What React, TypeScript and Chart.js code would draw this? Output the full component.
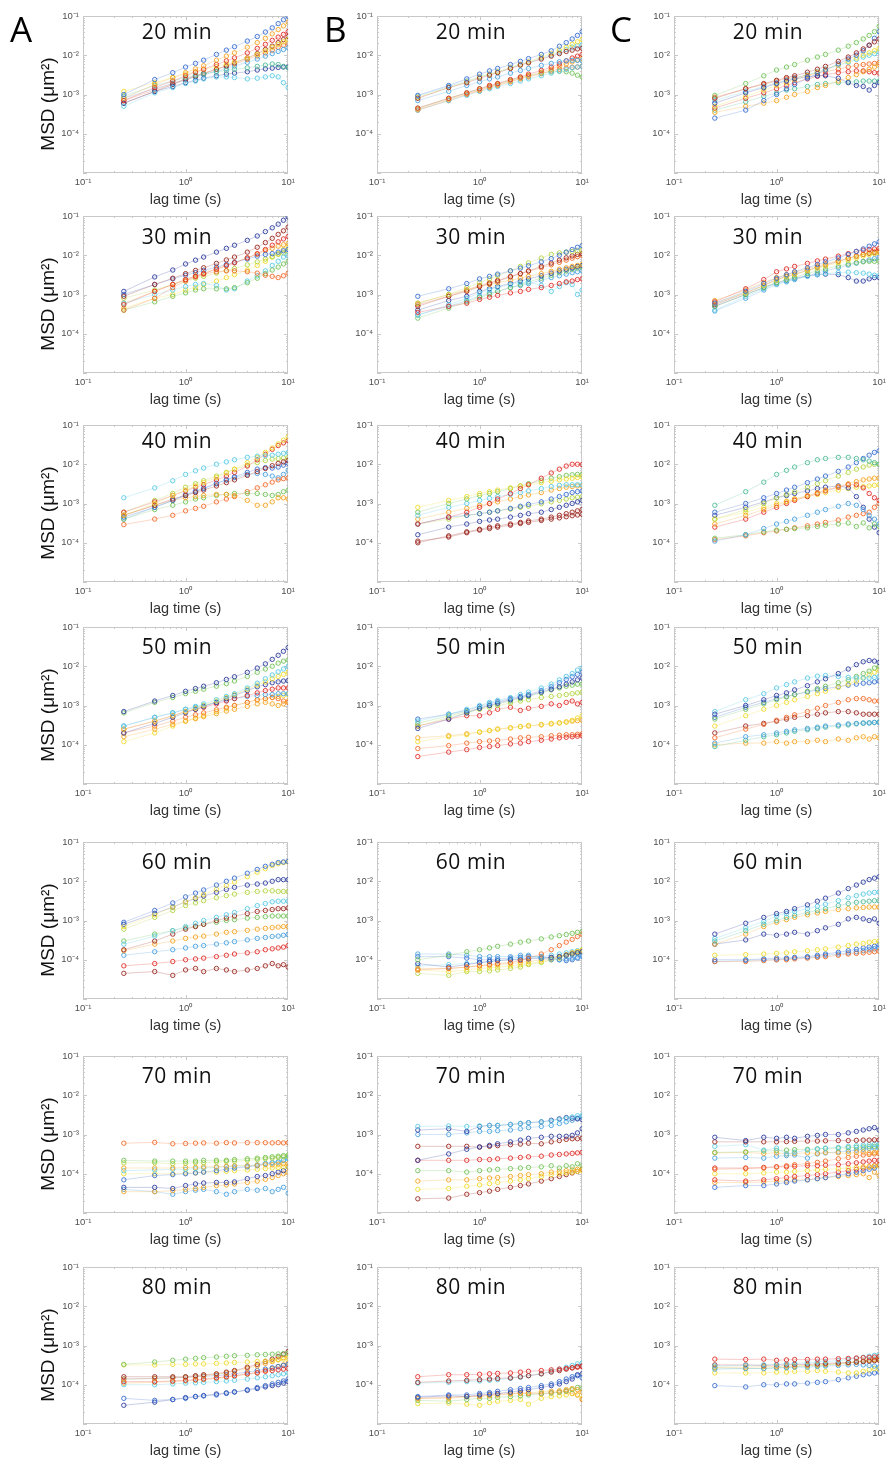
import React, { useEffect, useRef } from "react";
import { Chart, registerables } from "chart.js";

Chart.register(...registerables);

// ---------------- data ----------------
// lag times (s) shared by every curve
const LAG_S = [0.25, 0.5, 0.75, 1, 1.25, 1.5, 2, 2.5, 3, 4, 5, 6, 7, 8, 9, 10];
// all MSD values below are given in units of 1e-4 µm²
const UNIT = 1e-4;

const ROW_TITLES = ["20 min", "30 min", "40 min", "50 min", "60 min", "70 min", "80 min"];
const COLUMN_LETTERS = ["A", "B", "C"];
const X_TICKS = [0.1, 1, 10];
const X_TICK_LABELS = ["10⁻¹", "10⁰", "10¹"];
const Y_TICKS = [1e-4, 1e-3, 1e-2, 1e-1];
const Y_TICK_LABELS = ["10⁻⁴", "10⁻³", "10⁻²", "10⁻¹"];
const X_TITLE = "lag time (s)";
const Y_TITLE = "MSD (μm²)";

// ---- 20 min ----
const msdA20 = [
  [10, 24, 36, 50, 62, 75, 105, 135, 165, 230, 300, 390, 500, 640, 800, 980],
  [8, 18, 27, 36, 45, 54, 75, 95, 115, 160, 210, 270, 350, 450, 560, 700],
  [7, 15, 22, 30, 37, 44, 58, 72, 86, 115, 150, 190, 240, 290, 340, 400],
  [9, 17, 22, 27, 31, 34, 38, 41, 44, 48, 52, 56, 60, 58, 52, 48],
  [5, 11, 15, 19, 22, 25, 28, 28, 27, 25, 26, 28, 30, 28, 20, 15],
  [6, 12, 16, 20, 23, 26, 30, 33, 35, 38, 42, 45, 47, 49, 50, 50],
  [12, 20, 27, 33, 38, 43, 52, 60, 68, 85, 105, 130, 160, 190, 220, 250],
  [6, 12, 18, 24, 29, 34, 44, 54, 64, 85, 110, 140, 170, 210, 250, 300],
  [8, 14, 19, 24, 28, 32, 39, 46, 53, 66, 80, 95, 110, 125, 140, 155],
  [7, 13, 19, 25, 30, 35, 44, 52, 60, 78, 96, 115, 135, 160, 180, 200],
];
const colA20 = ["b", "o", "r", "t", "c", "db", "y", "dr", "lb", "ro"];

const msdB20 = [
  [9.5, 17, 25, 33, 40, 46, 58, 70, 82, 105, 130, 170, 210, 260, 320, 400],
  [8, 15, 20, 26, 31, 36, 46, 56, 64, 80, 95, 110, 125, 135, 145, 150],
  [8.5, 15, 21, 28, 33, 38, 48, 58, 68, 90, 110, 135, 160, 190, 220, 250],
  [7, 12, 17, 21, 25, 28, 35, 41, 46, 55, 62, 68, 72, 74, 74, 72],
  [4.5, 8, 11, 14, 17, 19, 24, 28, 33, 41, 50, 60, 72, 85, 95, 105],
  [4.2, 7.5, 10.5, 13, 16, 18, 22, 26, 30, 37, 44, 52, 60, 68, 76, 82],
  [4, 7, 9.5, 12, 14, 16, 19, 22, 25, 30, 35, 40, 44, 48, 50, 52],
  [4.5, 8, 11, 14, 16, 19, 23, 27, 30, 35, 38, 39, 38, 35, 31, 28],
  [4, 7, 10, 12.5, 15, 17, 21, 25, 28, 34, 40, 44, 47, 49, 50, 52],
  [9, 16, 22, 28, 33, 38, 48, 57, 66, 85, 100, 120, 140, 160, 175, 185],
];
const colB20 = ["b", "dr", "y", "lb", "r", "o", "c", "g", "ro", "c"];

const msdC20 = [
  [9.5, 19, 30, 42, 50, 58, 75, 90, 105, 135, 170, 210, 260, 320, 400, 550],
  [8, 14, 19, 23, 27, 30, 37, 44, 52, 70, 90, 115, 145, 180, 220, 260],
  [2.5, 4, 7, 10, 14, 18, 26, 34, 42, 60, 80, 100, 130, 180, 270, 400],
  [6, 11, 15, 19, 22, 25, 28, 30, 30, 26, 20, 17, 16, 13, 17, 20],
  [5, 9, 13, 17, 20, 24, 30, 37, 43, 56, 70, 85, 100, 115, 130, 150],
  [3.5, 5, 6, 7, 8.5, 10, 12, 15, 17, 22, 27, 32, 38, 44, 50, 58],
  [4.5, 8, 11, 14, 17, 20, 25, 29, 32, 36, 38, 40, 40, 38, 36, 35],
  [7, 12, 16, 20, 23, 26, 32, 38, 44, 55, 66, 78, 90, 100, 110, 120],
  [4, 6.5, 9, 11, 13, 14, 16, 18, 19, 20, 21, 21, 22, 22, 22, 22],
  [8.5, 14, 18, 22, 25, 27, 31, 35, 38, 44, 50, 55, 58, 60, 62, 65],
];
const colC20 = ["g", "dr", "b", "db", "y", "o", "r", "c", "t", "ro"];

// ---- 30 min ----
const msdA30 = [
  [12, 28, 42, 60, 75, 90, 120, 150, 180, 240, 310, 400, 500, 620, 780, 950],
  [9, 18, 26, 34, 41, 48, 62, 76, 90, 120, 160, 210, 270, 340, 420, 520],
  [5.5, 12, 18, 24, 29, 34, 44, 54, 64, 86, 110, 140, 180, 220, 260, 300],
  [4, 8, 15, 22, 28, 33, 38, 40, 40, 38, 35, 31, 29, 27, 30, 35],
  [4, 6.5, 9, 11, 13, 14, 14, 14, 15, 20, 26, 34, 42, 50, 60, 70],
  [6, 10, 13, 16, 18, 19, 17, 13, 14, 22, 30, 40, 55, 70, 90, 100],
  [10, 18, 25, 31, 36, 41, 50, 58, 66, 80, 95, 105, 110, 120, 130, 140],
  [6, 12, 18, 24, 30, 35, 45, 55, 65, 85, 105, 130, 150, 170, 185, 200],
  [8, 13, 18, 22, 26, 29, 35, 41, 46, 57, 68, 80, 92, 105, 115, 125],
  [4.5, 8, 10, 13, 15, 18, 22, 27, 32, 42, 55, 70, 90, 110, 140, 170],
];
const colA30 = ["db", "dr", "r", "ro", "g", "c", "b", "o", "yg", "y"];

const msdB30 = [
  [9, 14, 19, 25, 29, 33, 40, 47, 54, 68, 82, 100, 120, 140, 160, 175],
  [6, 10, 15, 20, 25, 30, 40, 52, 64, 85, 105, 115, 120, 125, 130, 135],
  [5, 9, 12, 16, 19, 22, 28, 34, 40, 52, 63, 75, 86, 96, 105, 110],
  [3.5, 5, 6, 7.5, 8.5, 9.5, 11, 12, 13.5, 15, 17, 19, 21, 22, 24, 25],
  [3, 5.5, 8, 11, 13, 15, 18, 20, 21, 17, 12, 16, 20, 18, 10, 13],
  [6, 10, 13, 16, 18, 20, 23, 26, 29, 34, 39, 44, 48, 52, 55, 58],
  [4, 7, 9, 12, 14, 16, 19, 22, 25, 30, 35, 40, 44, 48, 52, 55],
  [2.5, 4.5, 6.5, 8.5, 10, 12, 15, 18, 21, 26, 31, 36, 40, 44, 47, 50],
  [5.5, 9, 13, 17, 20, 23, 29, 34, 39, 48, 57, 66, 75, 84, 92, 100],
  [3, 5, 7, 9, 11, 12, 15, 17, 19, 23, 27, 30, 33, 36, 38, 40],
];
const colB30 = ["b", "yg", "dr", "r", "c", "o", "db", "g", "ro", "lb"];

const msdC30 = [
  [6, 12, 19, 26, 32, 38, 48, 58, 68, 85, 105, 125, 145, 170, 195, 220],
  [6.5, 14, 24, 38, 45, 52, 62, 72, 80, 95, 110, 125, 135, 140, 145, 150],
  [7, 13, 20, 27, 32, 37, 45, 53, 60, 72, 85, 95, 105, 115, 122, 130],
  [6, 11, 17, 23, 28, 32, 40, 47, 53, 64, 75, 85, 95, 103, 110, 115],
  [5, 10, 15, 20, 24, 28, 34, 40, 45, 53, 60, 65, 68, 70, 70, 70],
  [4, 9, 14, 19, 22, 25, 29, 32, 34, 36, 37, 36, 35, 33, 31, 30],
  [5, 10, 15, 20, 23, 26, 30, 32, 33, 32, 27, 22, 22, 25, 27, 27],
  [5.5, 11, 17, 24, 29, 33, 41, 49, 56, 70, 83, 95, 105, 112, 118, 122],
  [3.8, 8, 13, 18, 21, 24, 30, 35, 40, 48, 56, 63, 70, 76, 82, 88],
];
const colC30 = ["b", "r", "o", "y", "g", "c", "db", "dr", "lb"];

// ---- 40 min ----
const msdA40 = [
  [14, 25, 38, 55, 68, 80, 100, 115, 130, 150, 160, 165, 170, 180, 190, 200],
  [5, 10, 16, 22, 28, 34, 46, 60, 75, 110, 150, 200, 260, 330, 410, 500],
  [6, 11, 16, 21, 26, 30, 40, 50, 62, 90, 130, 180, 240, 300, 350, 400],
  [5, 9, 13, 16, 19, 22, 28, 34, 40, 52, 65, 78, 92, 105, 115, 125],
  [4.5, 8, 12, 16, 20, 24, 32, 40, 48, 62, 75, 82, 80, 85, 95, 105],
  [5, 9, 12, 14, 15, 16, 17, 17, 16, 12, 9, 9, 11, 14, 14, 13],
  [4, 7, 9, 11, 13, 14, 16, 17, 18, 18, 18, 17, 16, 17, 20, 22],
  [2.9, 4, 5, 6.5, 7.5, 8.5, 11, 13, 15, 20, 25, 30, 35, 40, 43, 45],
  [6, 12, 18, 26, 32, 38, 50, 62, 74, 95, 110, 125, 135, 140, 145, 150],
  [4, 8, 12, 17, 21, 25, 33, 40, 46, 55, 58, 55, 50, 45, 55, 70],
];
const colA40 = ["c", "y", "r", "dr", "b", "o", "g", "ro", "yg", "lb"];

const msdB40 = [
  [3, 4.5, 6, 8, 10, 13, 18, 24, 30, 44, 60, 75, 90, 100, 100, 98],
  [8, 12, 15, 18, 20, 22, 25, 28, 30, 34, 37, 40, 42, 44, 46, 48],
  [6, 10, 13, 16, 18, 20, 24, 28, 32, 38, 44, 48, 52, 54, 55, 55],
  [5, 8, 10, 12, 13.5, 15, 17, 19, 21, 24, 27, 29, 30, 30, 30, 30],
  [4, 6, 7.5, 9, 10, 11, 13, 15, 16.5, 19, 22, 24, 26, 27, 28, 28],
  [3, 4.5, 5, 5.5, 6, 6.5, 7.5, 8.5, 9.5, 11, 13, 15, 17, 19, 20, 21],
  [1.6, 2.5, 3, 3.5, 3.8, 4, 4.5, 5, 5.5, 6, 7, 8, 9, 10, 11, 12],
  [1, 1.5, 1.9, 2.2, 2.5, 2.7, 3, 3.3, 3.6, 4, 4.5, 5, 5.5, 6, 6.5, 7],
  [1.1, 1.4, 1.8, 2.1, 2.3, 2.5, 2.8, 3.1, 3.3, 3.7, 4, 4.3, 4.6, 4.9, 5.1, 5.3],
  [3, 4, 5, 5.5, 6, 6.5, 7.2, 8, 8.6, 9.8, 11, 12, 13, 14, 14.5, 15],
];
const colB40 = ["r", "y", "g", "c", "o", "b", "db", "dr", "dr", "yg"];

const msdC40 = [
  [9, 20, 35, 55, 70, 85, 110, 130, 140, 150, 150, 140, 130, 120, 110, 100],
  [6, 10, 14, 18, 22, 26, 34, 42, 50, 66, 85, 110, 140, 170, 200, 220],
  [4, 7, 10, 14, 17, 20, 26, 32, 38, 50, 62, 75, 85, 95, 100, 100],
  [3, 5, 7, 9, 11, 13, 16, 19, 22, 27, 32, 36, 40, 42, 44, 45],
  [2.5, 4, 6, 8, 10, 12, 15, 18, 21, 26, 30, 30, 25, 18, 14, 12],
  [1.1, 1.6, 2.3, 3, 3.5, 4, 5, 6, 7, 8.5, 10, 9, 7, 5, 4, 3],
  [1.3, 1.6, 1.9, 2.1, 2.2, 2.3, 2.4, 2.6, 2.8, 3, 3.2, 2.6, 3.2, 2.4, 3, 2.6],
  [1.2, 1.5, 1.8, 2, 2.2, 2.4, 2.7, 3, 3.3, 3.8, 4.5, 5, 5.5, 6, 8, 10],
  [5, 8, 11, 14, 16, 18, 21, 24, 26, 28, 25, 15, 8, 4, 2.5, 1.8],
  [4, 6, 8, 10, 11.5, 13, 15, 17, 19, 22, 24, 26, 27, 28, 29, 30],
];
const colC40 = ["t", "b", "yg", "o", "r", "lb", "g", "ro", "db", "y"];

// ---- 50 min ----
const msdA50 = [
  [7, 13, 18, 23, 27, 31, 38, 46, 54, 70, 90, 115, 150, 190, 240, 300],
  [6.5, 12, 16, 20, 23, 26, 31, 36, 42, 55, 70, 85, 100, 120, 135, 145],
  [3, 5, 6.5, 8, 9.5, 11, 14, 17, 20, 28, 37, 48, 60, 72, 85, 100],
  [2.5, 4, 5.5, 7, 8.5, 10, 13, 16, 19, 26, 33, 40, 48, 55, 62, 70],
  [2, 3.5, 5, 6.5, 8, 9.5, 12, 15, 18, 24, 30, 34, 38, 40, 42, 43],
  [2.5, 4, 5.5, 7, 8, 9, 11, 13, 15, 18, 21, 24, 26, 28, 28, 28],
  [3, 5, 6.5, 8, 9, 10, 12, 13.5, 15, 17, 18, 19, 19, 20, 20, 20],
  [1.6, 2.5, 3.3, 4, 4.6, 5.2, 6.2, 7.2, 8, 9.5, 11, 12, 11, 10, 11, 13],
  [2, 3, 4, 5, 5.8, 6.5, 7.8, 9, 10, 12, 14, 15, 16, 15, 13, 12],
  [1.2, 2, 3, 4, 4.8, 5.5, 7, 8.5, 10, 12, 14, 15, 16, 17, 18, 19],
];
const colA50 = ["db", "g", "c", "y", "db", "r", "lb", "o", "ro", "y"];

const msdB50 = [
  [4, 6, 8, 10, 12, 13.5, 16, 19, 22, 28, 35, 45, 55, 65, 80, 90],
  [4.5, 6, 7.5, 9.5, 11, 12.5, 15, 17, 19, 24, 30, 38, 46, 54, 62, 70],
  [2.6, 4.5, 6.5, 8.5, 10, 11.5, 14, 16, 18, 22, 26, 30, 35, 40, 45, 50],
  [3.5, 5.5, 7, 8.5, 10, 11, 13, 15, 17, 21, 25, 28, 31, 33, 35, 35],
  [3, 5, 6.5, 8, 9, 10, 11.5, 13, 14, 16, 17, 18, 19, 20, 21, 22],
  [3, 4.5, 5.5, 5.5, 6.5, 8, 9, 7.5, 8.5, 9.5, 11, 10, 12, 13, 11, 12],
  [1.2, 1.6, 1.8, 2.1, 2.3, 2.5, 2.7, 2.9, 3.1, 3.3, 3.5, 3.6, 3.8, 4.2, 4.8, 5.5],
  [1.5, 1.7, 1.9, 2.1, 2.3, 2.5, 2.7, 2.9, 3, 3.2, 3.4, 3.6, 3.8, 4, 4.1, 4.2],
  [0.5, 0.65, 0.75, 0.85, 0.9, 0.95, 1.05, 1.1, 1.2, 1.3, 1.4, 1.5, 1.55, 1.6, 1.65, 1.7],
  [0.8, 0.95, 1.1, 1.2, 1.25, 1.3, 1.4, 1.5, 1.55, 1.6, 1.7, 1.75, 1.8, 1.8, 1.85, 1.9],
];
const colB50 = ["c", "b", "db", "g", "yg", "r", "y", "o", "r", "ro"];

const msdC50 = [
  [6, 10, 14, 18, 21, 25, 32, 40, 48, 65, 85, 110, 130, 140, 135, 125],
  [7, 14, 20, 28, 34, 40, 50, 56, 58, 55, 52, 50, 50, 50, 52, 55],
  [4.5, 8, 11, 14, 16.5, 19, 23, 27, 31, 38, 45, 55, 65, 75, 90, 100],
  [3, 5.5, 8, 10, 12, 14, 17, 20, 23, 29, 35, 42, 50, 60, 70, 80],
  [5, 9, 12, 15, 17, 19, 22, 25, 27, 30, 33, 35, 37, 38, 40, 42],
  [1.5, 2.5, 3.3, 4.2, 5, 5.8, 7, 8.5, 10, 12, 14, 15, 15, 14, 13, 13],
  [2, 3, 3.5, 4, 4.5, 5, 5.5, 6, 6.5, 7, 7, 6.5, 6, 6, 6, 6],
  [1.1, 1.6, 1.8, 2, 2.2, 2.4, 2.6, 2.8, 3, 3.2, 3.4, 3.5, 3.6, 3.6, 3.7, 3.7],
  [0.9, 1.3, 1.6, 1.8, 2, 2.2, 2.4, 2.6, 2.8, 3, 3.2, 3.4, 3.5, 3.6, 3.7, 3.8],
  [1, 1.1, 1.1, 1.2, 1.1, 1.2, 1.2, 1.3, 1.2, 1.4, 1.3, 1.5, 1.6, 1.4, 1.6, 1.5],
];
const colC50 = ["db", "c", "g", "y", "b", "ro", "dr", "lb", "t", "o"];

// ---- 60 min ----
const msdA60 = [
  [9, 18, 28, 40, 50, 60, 80, 100, 120, 160, 200, 240, 270, 300, 310, 320],
  [7, 14, 22, 30, 38, 46, 62, 78, 95, 130, 170, 210, 250, 280, 300, 310],
  [8, 15, 22, 30, 36, 42, 52, 62, 70, 80, 85, 90, 100, 110, 110, 110],
  [6, 12, 18, 24, 28, 32, 38, 43, 47, 52, 55, 57, 57, 55, 55, 55],
  [2.5, 4, 5.5, 7, 8.5, 10, 12, 14, 16, 20, 24, 27, 30, 31, 31, 31],
  [1.8, 3, 4.5, 6, 7, 8, 10, 11.5, 13, 15, 17, 18, 19, 20, 20, 21],
  [3, 4.5, 5.5, 6.5, 7.2, 8, 9, 10, 10.5, 11.5, 12, 12.5, 13, 13, 13, 13],
  [1.7, 2.5, 3, 3.5, 3.8, 4, 4.5, 5, 5.2, 5.6, 6, 6.3, 6.6, 6.8, 7, 7],
  [1.3, 1.6, 1.8, 2, 2.2, 2.3, 2.5, 2.7, 2.9, 3.2, 3.5, 3.7, 3.9, 4, 4.2, 4.4],
  [0.7, 0.8, 0.9, 1, 1.05, 1.1, 1.2, 1.3, 1.4, 1.5, 1.6, 1.8, 1.9, 2, 2.1, 2.3],
  [0.45, 0.5, 0.4, 0.55, 0.6, 0.5, 0.6, 0.55, 0.5, 0.55, 0.6, 0.7, 0.8, 0.7, 0.75, 0.65],
];
const colA60 = ["b", "y", "db", "yg", "c", "dr", "g", "o", "lb", "r", "dr"];

const msdB60 = [
  [1, 1.3, 1.6, 1.8, 2, 2.2, 2.5, 2.8, 3, 3.4, 3.8, 4.1, 4.4, 4.7, 5, 5.2],
  [0.55, 0.6, 0.65, 0.7, 0.75, 0.8, 0.85, 0.95, 1.1, 1.4, 1.8, 2.3, 2.8, 3.3, 3.9, 4.5],
  [1.4, 1.4, 1.3, 1.2, 1.2, 1.2, 1.2, 1.3, 1.3, 1.1, 1, 1, 1.05, 1.1, 1.15, 1.2],
  [0.8, 0.65, 0.75, 0.85, 0.9, 0.95, 1, 1, 1.05, 1.1, 1.15, 1.2, 1.3, 1.4, 1.5, 1.6],
  [0.55, 0.5, 0.55, 0.6, 0.62, 0.65, 0.7, 0.75, 0.8, 0.9, 1, 1.1, 1.3, 1.45, 1.6, 1.8],
  [0.6, 0.6, 0.65, 0.7, 0.72, 0.75, 0.8, 0.85, 0.9, 1, 1.1, 1.2, 1.35, 1.5, 1.6, 1.7],
  [0.45, 0.4, 0.5, 0.5, 0.52, 0.55, 0.6, 0.65, 0.75, 0.85, 1, 1.15, 1.3, 1.4, 1.5, 1.6],
  [0.7, 0.75, 0.8, 0.85, 0.9, 0.95, 1, 1.05, 1.1, 1.2, 1.3, 1.4, 1.5, 1.6, 1.7, 1.8],
  [1.2, 1.2, 1.1, 1, 1, 1.05, 1.1, 1.15, 1.2, 1.2, 1.1, 1, 0.95, 1, 1.1, 1.3],
];
const colB60 = ["g", "ro", "lb", "db", "y", "o", "yg", "c", "b"];

const msdC60 = [
  [4.5, 8.5, 12, 15, 17, 20, 25, 31, 37, 50, 65, 80, 95, 110, 120, 130],
  [3.5, 6.5, 9.5, 13, 15, 17, 20, 23, 26, 32, 38, 43, 47, 50, 52, 53],
  [3, 5.5, 8, 10, 12, 13.5, 16, 18, 20, 24, 27, 29, 30, 31, 32, 32],
  [2.5, 4.5, 7, 9, 10.5, 12, 14, 15.5, 17, 19, 20, 21, 21.5, 22, 22, 22],
  [2.5, 3.2, 4.5, 4.2, 4.5, 5, 4.5, 5.5, 6.5, 8, 11, 12, 11, 10, 11, 8.5],
  [1.3, 1.35, 1.4, 1.45, 1.5, 1.6, 1.7, 1.8, 1.9, 2.1, 2.3, 2.5, 2.6, 2.8, 2.9, 3],
  [1, 1, 1.05, 1.1, 1.1, 1.15, 1.2, 1.3, 1.4, 1.55, 1.7, 1.85, 2, 2.1, 2.2, 2.4],
  [0.9, 0.9, 0.95, 1, 1, 1.05, 1.1, 1.15, 1.2, 1.3, 1.4, 1.45, 1.5, 1.55, 1.6, 1.65],
  [0.9, 0.95, 1, 1, 1.05, 1.1, 1.15, 1.2, 1.3, 1.4, 1.5, 1.6, 1.7, 1.8, 1.9, 2],
];
const colC60 = ["db", "c", "t", "o", "db", "y", "b", "ro", "lb"];

// ---- 70 min ----
const msdA70 = [
  [6, 6.3, 5.8, 5.9, 6, 6.1, 6, 6.2, 6.1, 6.2, 6.2, 6.2, 6.1, 6.2, 6.1, 6.2],
  [2.2, 2.1, 2.1, 2.1, 2.1, 2.2, 2.2, 2.2, 2.3, 2.4, 2.5, 2.6, 2.7, 2.8, 2.9, 3],
  [1.9, 1.9, 1.8, 1.85, 1.9, 1.9, 2, 2.05, 2.1, 2.2, 2.3, 2.4, 2.5, 2.6, 2.7, 2.8],
  [1.4, 1.4, 1.4, 1.45, 1.45, 1.5, 1.5, 1.55, 1.6, 1.6, 1.65, 1.7, 1.7, 1.75, 1.8, 1.8],
  [1.2, 1.25, 1.3, 1.3, 1.35, 1.4, 1.45, 1.5, 1.55, 1.6, 1.7, 1.8, 1.9, 2, 2.2, 2.4],
  [0.7, 0.9, 0.95, 1, 1.05, 1.1, 1.2, 1.3, 1.4, 1.5, 1.6, 1.8, 1.9, 2, 2.2, 2.5],
  [1, 1, 1, 1.05, 1.05, 1.1, 1.1, 1.15, 1.2, 1.25, 1.3, 1.35, 1.4, 1.45, 1.5, 1.5],
  [0.45, 0.45, 0.42, 0.5, 0.55, 0.58, 0.6, 0.6, 0.62, 0.75, 0.85, 0.9, 1, 1.1, 1.2, 1.5],
  [0.35, 0.35, 0.37, 0.4, 0.42, 0.45, 0.5, 0.52, 0.55, 0.6, 0.65, 0.72, 0.8, 0.9, 1, 1.1],
  [0.4, 0.35, 0.3, 0.35, 0.38, 0.4, 0.35, 0.3, 0.35, 0.4, 0.38, 0.42, 0.35, 0.4, 0.45, 0.32],
];
const colA70 = ["ro", "g", "yg", "o", "c", "b", "y", "db", "o", "lb"];

const msdB70 = [
  [16, 16.5, 16, 16.5, 17, 17, 18, 19, 20, 21, 22, 24, 26, 28, 30, 31],
  [13, 14, 12, 16, 17, 17, 18, 19, 20, 21, 23, 25, 27, 26, 25, 24],
  [10, 10, 11, 12, 12, 12.5, 13, 14, 15, 16, 17, 19, 21, 23, 26, 28],
  [2.2, 3.2, 4.2, 4.8, 5.3, 5.8, 6.5, 7.2, 8, 8.5, 9, 9, 9, 9.5, 11, 14],
  [5, 5, 5, 4.8, 5, 5.2, 5.5, 5.7, 6, 5.8, 6.5, 7, 7.5, 7.8, 7.8, 8],
  [2.2, 2.2, 2.2, 2.3, 2.3, 2.4, 2.5, 2.6, 2.7, 2.8, 3, 3.1, 3.2, 3.3, 3.4, 3.5],
  [1.2, 1.2, 1.1, 1.2, 1.25, 1.3, 1.35, 1.4, 1.45, 1.5, 1.6, 1.4, 1.6, 1.5, 1.8, 1.6],
  [0.65, 0.7, 0.7, 0.75, 0.78, 0.8, 0.85, 0.9, 0.95, 1, 1.1, 1.15, 1.2, 1.25, 1.3, 1.3],
  [0.4, 0.42, 0.48, 0.52, 0.56, 0.6, 0.65, 0.7, 0.75, 0.85, 0.95, 1, 1.05, 1.1, 1.15, 1.2],
  [0.23, 0.24, 0.3, 0.33, 0.36, 0.4, 0.45, 0.5, 0.55, 0.65, 0.75, 0.85, 0.95, 1.05, 1.15, 1.3],
];
const colB70 = ["c", "db", "lb", "db", "dr", "r", "g", "o", "y", "dr"];

const msdC70 = [
  [8.5, 7, 8.5, 8, 8.5, 8, 9, 9.5, 10, 10, 11, 12, 13, 14, 15, 13],
  [6.5, 6.5, 6.5, 6.5, 6.6, 6.7, 6.8, 6.8, 6.9, 7, 7, 7.1, 7.2, 7.2, 7.3, 7.3],
  [5, 5.5, 4, 4.5, 3.2, 3.5, 4, 4.3, 4.5, 4.7, 5, 5.2, 5.4, 5.5, 5.6, 5.7],
  [3.5, 3.6, 3.8, 3.9, 4, 4.1, 4.2, 4.3, 4.4, 4.5, 4.6, 4.7, 4.8, 4.9, 5, 5],
  [3.4, 3.5, 3.3, 3.4, 3.2, 3.3, 3.4, 3.3, 3.5, 3.4, 3.3, 3.5, 3.6, 3.4, 3.5, 3.6],
  [2.5, 2.6, 2.5, 2.8, 2.9, 3, 2.5, 3.2, 3.4, 3.6, 3.8, 4, 4.2, 4.4, 4.5, 4.6],
  [1.3, 1.35, 1.4, 1.5, 1.6, 1.7, 1.8, 1.95, 2.1, 2.4, 2.6, 2.8, 3, 3.1, 3.2, 3.3],
  [1.4, 1.4, 1.45, 1.5, 1.5, 1.55, 1.6, 1.6, 1.65, 1.7, 1.8, 1.9, 2, 2.1, 2.2, 2.2],
  [1, 1, 1.05, 1.1, 1.1, 1.15, 1.2, 1.25, 1.3, 1.35, 1.4, 1.45, 1.5, 1.5, 1.55, 1.6],
  [0.7, 0.65, 0.7, 0.75, 0.8, 0.85, 0.9, 0.95, 1, 1.1, 1.2, 1.3, 1.4, 1.5, 1.6, 1.7],
  [0.45, 0.5, 0.5, 0.55, 0.6, 0.65, 0.7, 0.75, 0.8, 0.9, 1, 1.1, 1.2, 1.3, 1.4, 1.6],
  [0.6, 0.6, 0.62, 0.65, 0.65, 0.7, 0.7, 0.75, 0.8, 0.85, 0.9, 0.95, 1, 0.8, 1.1, 0.9],
];
const colC70 = ["db", "dr", "c", "g", "o", "lb", "ro", "r", "y", "r", "b", "o"];

// ---- 80 min ----
const msdA80 = [
  [3.3, 3.8, 4.2, 4.5, 4.7, 4.9, 5.1, 5.3, 5.5, 5.6, 5.8, 5.9, 6, 6.1, 6.2, 6.3],
  [3.2, 3.2, 3.3, 3.3, 3.4, 3.4, 3.5, 3.6, 3.7, 3.8, 3.9, 4, 4.1, 4.3, 4.5, 4.7],
  [1.6, 1.6, 1.6, 1.6, 1.7, 1.8, 1.9, 2.1, 2.3, 2.8, 3.3, 3.9, 4.5, 5.2, 6, 7],
  [1.4, 1.45, 1.5, 1.55, 1.6, 1.7, 1.85, 2, 2.2, 2.6, 3, 3.5, 3.9, 4.4, 4.9, 5.3],
  [1.2, 1.2, 1.25, 1.3, 1.35, 1.4, 1.5, 1.6, 1.7, 1.9, 2, 2.2, 2.3, 2.4, 2.5, 2.6],
  [1.4, 1.45, 1.5, 1.55, 1.6, 1.65, 1.7, 1.8, 1.9, 2.1, 2.3, 2.5, 2.7, 2.9, 3.1, 3.3],
  [1, 1, 1.05, 1.1, 1.12, 1.15, 1.2, 1.25, 1.3, 1.4, 1.5, 1.6, 1.7, 1.8, 1.9, 2],
  [0.45, 0.4, 0.42, 0.45, 0.5, 0.52, 0.55, 0.6, 0.65, 0.75, 0.85, 0.95, 1.05, 1.15, 1.25, 1.4],
  [0.3, 0.36, 0.42, 0.47, 0.5, 0.53, 0.58, 0.62, 0.66, 0.72, 0.8, 0.88, 0.95, 1, 1.1, 1.2],
  [1.1, 1.15, 1.2, 1.25, 1.3, 1.35, 1.45, 1.55, 1.65, 1.85, 2.05, 2.3, 2.6, 2.9, 3.2, 3.6],
];
const colA80 = ["g", "y", "dr", "o", "r", "b", "c", "b", "db", "o"];

const msdB80 = [
  [1.6, 1.8, 1.8, 1.85, 1.9, 1.95, 2, 2.1, 2.2, 2.3, 2.4, 2.5, 2.6, 2.7, 2.8, 2.9],
  [1.15, 1.25, 1.3, 1.35, 1.4, 1.45, 1.5, 1.6, 1.7, 1.9, 2.1, 2.3, 2.5, 2.7, 2.9, 3],
  [1.1, 1.15, 1.2, 1.25, 1.3, 1.35, 1.45, 1.55, 1.7, 1.9, 2.2, 2.5, 2.8, 3.1, 3.4, 3.6],
  [0.5, 0.55, 0.55, 0.6, 0.63, 0.68, 0.75, 0.8, 0.85, 0.95, 1.05, 1.2, 1.4, 1.6, 1.7, 1.5],
  [0.48, 0.52, 0.5, 0.55, 0.58, 0.6, 0.65, 0.7, 0.75, 0.85, 0.95, 1.05, 1.2, 1.4, 1.8, 1.9],
  [0.45, 0.45, 0.5, 0.5, 0.52, 0.55, 0.58, 0.6, 0.62, 0.66, 0.68, 0.7, 0.75, 0.8, 0.75, 0.65],
  [0.4, 0.38, 0.42, 0.45, 0.45, 0.48, 0.5, 0.52, 0.55, 0.6, 0.62, 0.65, 0.7, 0.75, 0.85, 0.8],
  [0.33, 0.34, 0.32, 0.3, 0.35, 0.38, 0.4, 0.42, 0.32, 0.45, 0.5, 0.52, 0.55, 0.6, 0.55, 0.45],
  [0.45, 0.48, 0.5, 0.52, 0.55, 0.58, 0.6, 0.62, 0.6, 0.58, 0.62, 0.65, 0.68, 0.6, 0.55, 0.42],
];
const colB80 = ["r", "dr", "c", "b", "db", "o", "g", "y", "ro"];

const msdC80 = [
  [4.5, 4.4, 4.5, 4.2, 4.3, 4.4, 4.4, 4.5, 4.5, 4.6, 4.7, 4.8, 4.9, 5, 5.1, 5.2],
  [3, 3.1, 3.2, 3.3, 3.4, 3.5, 3.6, 3.8, 3.9, 4.1, 4.4, 4.7, 5, 5.3, 5.6, 5.8],
  [3.2, 3.2, 3.1, 3.2, 3.2, 3.3, 3.3, 3.4, 3.5, 3.6, 3.7, 3.8, 3.9, 4, 4.1, 4.2],
  [2.8, 2.8, 2.9, 2.9, 3, 3, 3.1, 3.2, 3.3, 3.4, 3.6, 3.8, 4, 4.2, 4.4, 4.6],
  [2.5, 2.6, 2.6, 2.7, 2.7, 2.8, 2.8, 2.9, 3, 3.1, 3.2, 3.3, 3.2, 3.1, 3, 2.8],
  [2, 2, 2, 2.1, 2.1, 2.2, 2.2, 2.3, 2.2, 2.1, 2, 2, 2.2, 2.4, 2.6, 2.5],
  [0.95, 0.88, 1, 1, 1.05, 1.05, 1.1, 1.15, 1.2, 1.35, 1.5, 1.65, 1.8, 1.9, 2, 2.1],
  [2.7, 2.6, 2.6, 2.7, 2.8, 2.9, 3, 3.1, 3.2, 3.4, 3.6, 3.8, 4, 4.2, 4.4, 4.5],
];
const colC80 = ["r", "c", "dr", "o", "lb", "y", "b", "g"];

// panel table (rows = time points, columns = A/B/C)
const GRID: [number[][], string[]][][] = [
  [[msdA20, colA20], [msdB20, colB20], [msdC20, colC20]],
  [[msdA30, colA30], [msdB30, colB30], [msdC30, colC30]],
  [[msdA40, colA40], [msdB40, colB40], [msdC40, colC40]],
  [[msdA50, colA50], [msdB50, colB50], [msdC50, colC50]],
  [[msdA60, colA60], [msdB60, colB60], [msdC60, colC60]],
  [[msdA70, colA70], [msdB70, colB70], [msdC70, colC70]],
  [[msdA80, colA80], [msdB80, colB80], [msdC80, colC80]],
];

// ---------------- styles / layout ----------------
const JET: Record<string, string> = {
  db: "#2f3e9e",
  b: "#3a6fd0",
  lb: "#4aa2df",
  c: "#5ccbe6",
  t: "#52bd98",
  g: "#76c35c",
  yg: "#b4d444",
  y: "#f0dc30",
  o: "#f5a524",
  ro: "#f26b2a",
  r: "#e0302a",
  dr: "#9c2a22",
};

const PLOT_LEFT = [83, 377, 674];
const PLOT_TOP = [16, 216, 425, 627, 842, 1056, 1267];
const PLOT_W = 208;
const PLOT_H = 157;
const AX_W = 83;
const TOP_PAD = 10;
const RIGHT_PAD = 8;
const AX_H = 40;
const CANVAS_W = AX_W + PLOT_W + RIGHT_PAD;
const CANVAS_H = TOP_PAD + PLOT_H + AX_H;
const TITLE_CY = [31, 236, 440, 646, 861, 1075, 1286];
const LETTER_X = [10, 324, 610];

const TICK_FONT = { family: "'Liberation Sans', Arial, sans-serif", size: 9.5 };

function rgba(hex: string, a: number) {
  const n = parseInt(hex.slice(1), 16);
  return `rgba(${(n >> 16) & 255},${(n >> 8) & 255},${n & 255},${a})`;
}

const framePlugin = {
  id: "msdFrame",
  beforeDatasetsDraw(chart: any) {
    const { ctx, chartArea } = chart;
    const { left, right, top, bottom } = chartArea;
    const xs = chart.scales.x;
    const ys = chart.scales.y;
    ctx.save();
    ctx.strokeStyle = "#c8c8c8";
    ctx.lineWidth = 1;
    ctx.strokeRect(Math.round(left) + 0.5, Math.round(top) + 0.5, Math.round(right - left) - 1, Math.round(bottom - top) - 1);
    ctx.beginPath();
    for (let e = -1; e < 1; e++) {
      for (let m = 1; m < 10; m++) {
        const v = m * Math.pow(10, e);
        const px = Math.round(xs.getPixelForValue(v)) + 0.5;
        const len = m === 1 ? 4 : 2;
        ctx.moveTo(px, bottom);
        ctx.lineTo(px, bottom - len);
        ctx.moveTo(px, top);
        ctx.lineTo(px, top + len);
      }
    }
    for (let e = -5; e < -1; e++) {
      for (let m = 1; m < 10; m++) {
        const v = m * Math.pow(10, e);
        const py = Math.round(ys.getPixelForValue(v)) + 0.5;
        const len = m === 1 ? 4 : 2;
        ctx.moveTo(left, py);
        ctx.lineTo(left + len, py);
        ctx.moveTo(right, py);
        ctx.lineTo(right - len, py);
      }
    }
    ctx.stroke();
    ctx.restore();
  },
};

function makeConfig(values: number[][], colors: string[]): any {
  return {
    type: "scatter",
    data: {
      datasets: values.map((series, i) => ({
        data: LAG_S.map((t, j) => ({ x: t, y: series[j] * UNIT })),
        showLine: true,
        borderColor: rgba(JET[colors[i]], 0.32),
        borderWidth: 0.8,
        pointRadius: 2.2,
        pointHoverRadius: 2.2,
        pointBorderWidth: 1,
        pointBorderColor: rgba(JET[colors[i]], 0.9),
        pointBackgroundColor: "rgba(0,0,0,0)",
      })),
    },
    options: {
      animation: false,
      responsive: false,
      maintainAspectRatio: false,
      devicePixelRatio: 1,
      events: [],
      layout: { padding: { top: TOP_PAD, right: RIGHT_PAD, left: 0, bottom: 0 } },
      plugins: { legend: { display: false }, tooltip: { enabled: false }, title: { display: false } },
      scales: {
        x: {
          type: "logarithmic",
          position: "bottom",
          min: 0.1,
          max: 10,
          afterBuildTicks: (s: any) => {
            s.ticks = X_TICKS.map((v) => ({ value: v }));
          },
          afterFit: (s: any) => {
            s.height = AX_H;
          },
          grid: { display: false, drawTicks: false },
          border: { display: false },
          ticks: {
            autoSkip: false,
            maxRotation: 0,
            minRotation: 0,
            padding: 4,
            color: "#505050",
            font: TICK_FONT,
            callback: (_v: any, i: number) => X_TICK_LABELS[i] ?? "",
          },
          title: {
            display: true,
            text: X_TITLE,
            color: "#333",
            font: { family: "'Liberation Sans', Arial, sans-serif", size: 14.5 },
            padding: { top: 0, bottom: 4.3 },
          },
        },
        y: {
          type: "logarithmic",
          position: "left",
          min: 1e-5,
          max: 1e-1,
          afterBuildTicks: (s: any) => {
            s.ticks = Y_TICKS.map((v) => ({ value: v }));
          },
          afterFit: (s: any) => {
            s.width = AX_W;
          },
          grid: { display: false, drawTicks: false },
          border: { display: false },
          ticks: {
            autoSkip: false,
            padding: 4,
            color: "#505050",
            font: TICK_FONT,
            callback: (_v: any, i: number) => Y_TICK_LABELS[i] ?? "",
          },
        },
      },
    },
    plugins: [framePlugin],
  };
}

function Panel({ row, col }: { row: number; col: number }) {
  const ref = useRef<HTMLCanvasElement | null>(null);
  const left = PLOT_LEFT[col] - AX_W;
  const top = PLOT_TOP[row] - TOP_PAD;
  useEffect(() => {
    if (!ref.current) return;
    const [values, colors] = GRID[row][col];
    const chart = new Chart(ref.current, makeConfig(values, colors));
    return () => chart.destroy();
  }, [row, col]);
  return (
    <canvas
      ref={ref}
      width={CANVAS_W}
      height={CANVAS_H}
      style={{ position: "absolute", left, top, width: CANVAS_W, height: CANVAS_H }}
    />
  );
}

export default function App() {
  return (
    <div
      style={{
        position: "absolute",
        left: 0,
        top: 0,
        width: 890,
        height: 1464,
        background: "#fff",
        overflow: "hidden",
      }}
    >
      {ROW_TITLES.map((_, r) =>
        COLUMN_LETTERS.map((__, c) => <Panel key={`p-${r}-${c}`} row={r} col={c} />)
      )}
      {COLUMN_LETTERS.map((L, c) => (
        <div
          key={`L-${c}`}
          style={{
            position: "absolute",
            left: LETTER_X[c],
            top: 11,
            fontFamily: "'Open Sans', sans-serif",
            fontSize: 35,
            lineHeight: 1,
            color: "#000",
          }}
        >
          {L}
        </div>
      ))}
      {ROW_TITLES.map((t, r) =>
        COLUMN_LETTERS.map((__, c) => (
          <div
            key={`t-${r}-${c}`}
            style={{
              position: "absolute",
              left: PLOT_LEFT[c] + 94,
              top: TITLE_CY[r],
              transform: "translate(-50%, -50%)",
              fontFamily: "'Open Sans', sans-serif",
              fontSize: 21,
              letterSpacing: 0.6,
              lineHeight: 1,
              whiteSpace: "nowrap",
              color: "#111",
            }}
          >
            {t}
          </div>
        ))
      )}
      {ROW_TITLES.map((_, r) => (
        <div
          key={`y-${r}`}
          style={{
            position: "absolute",
            left: 47,
            top: PLOT_TOP[r] + PLOT_H / 2 + 9,
            transform: "translate(-50%, -50%) rotate(-90deg)",
            fontFamily: "'Liberation Sans', Arial, sans-serif",
            fontSize: 19,
            lineHeight: 1,
            whiteSpace: "nowrap",
            color: "#111",
          }}
        >
          {Y_TITLE}
        </div>
      ))}
    </div>
  );
}
